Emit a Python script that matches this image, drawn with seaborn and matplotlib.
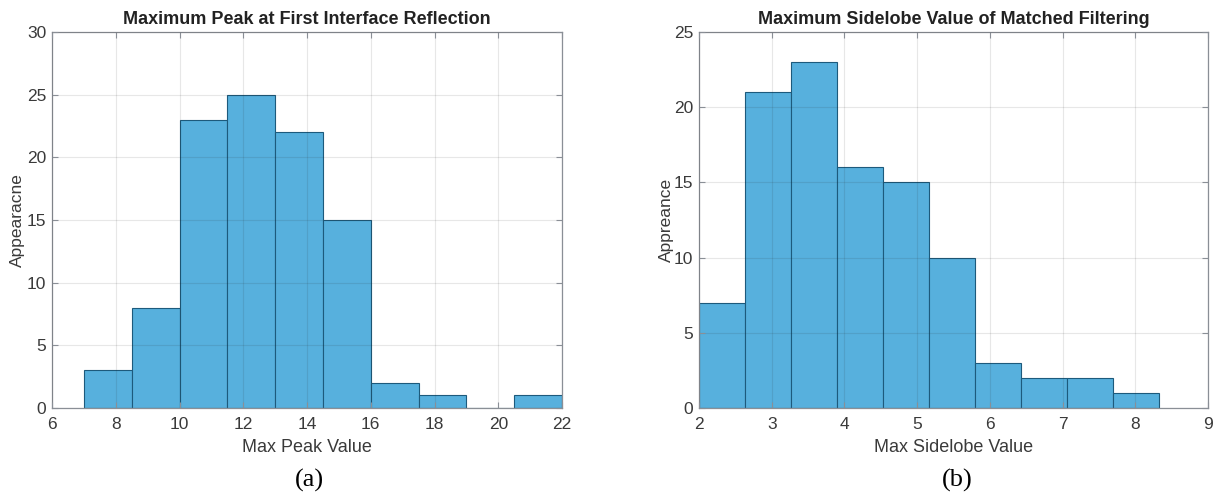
import numpy as np
import pandas as pd
import matplotlib
matplotlib.use("Agg")
import matplotlib.pyplot as plt
import seaborn as sns

# Histogram (a): bin edges and counts of maximum peak values
peak_edges = [7.0, 8.5, 10.0, 11.5, 13.0, 14.5, 16.0, 17.5, 19.0, 20.5, 22.0]
peak_counts = [3, 8, 23, 25, 22, 15, 2, 1, 0, 1]

# Histogram (b): bin edges and counts of maximum sidelobe values
side_edges = [2.0, 2.632, 3.264, 3.896, 4.528, 5.16, 5.792, 6.424, 7.056, 7.688, 8.32]
side_counts = [7, 21, 23, 16, 15, 10, 3, 2, 2, 1]

titles = ["Maximum Peak at First Interface Reflection",
          "Maximum Sidelobe Value of Matched Filtering"]
xlabels = ["Max Peak Value", "Max Sidelobe Value"]
ylabels = ["Appearacne", "Appreance"]
captions = ["(a)", "(b)"]

sns.set_theme(style="white")
plt.rcParams["font.family"] = ["Liberation Sans", "DejaVu Sans"]

FACE = "#57b0dd"
EDGE = "#1d5a7c"
AXC = "#8a8f96"
TXT = "#3a3a3a"

W, H = 1216, 495
fig = plt.figure(figsize=(W / 100, H / 100), dpi=100)
ax1 = fig.add_axes([52 / W, 1 - 408 / H, 510 / W, 376 / H])
ax2 = fig.add_axes([699 / W, 1 - 408 / H, 509 / W, 376 / H])


def draw_hist(ax, edges, counts):
    e = np.asarray(edges, dtype=float)
    centers = (e[:-1] + e[1:]) / 2
    df = pd.DataFrame({"x": centers, "n": counts})
    sns.histplot(data=df, x="x", weights="n", bins=list(edges), ax=ax,
                 color=FACE, alpha=1.0, edgecolor=EDGE, linewidth=0.8)


draw_hist(ax1, peak_edges, peak_counts)
draw_hist(ax2, side_edges, side_counts)

setup = [
    (ax1, (6, 22), np.arange(6, 23, 2), (0, 30), np.arange(0, 31, 5), -0.067),
    (ax2, (2, 9), np.arange(2, 10, 1), (0, 25), np.arange(0, 26, 5), -0.063),
]
for i, (ax, xl, xt, yl, yt, ylx) in enumerate(setup):
    ax.set_xlim(*xl)
    ax.set_ylim(*yl)
    ax.set_xticks(xt)
    ax.set_yticks(yt)
    ax.set_axisbelow(False)
    ax.grid(True, color="#262626", alpha=0.11, linewidth=0.8)
    for s in ax.spines.values():
        s.set_visible(True)
        s.set_color(AXC)
        s.set_linewidth(0.9)
    ax.tick_params(direction="in", length=4, width=0.8, color=AXC,
                   labelsize=12.5, labelcolor=TXT, top=True, right=True,
                   bottom=True, left=True)
    ax.tick_params(axis="x", pad=6.5)
    ax.tick_params(axis="y", pad=4)
    ax.set_title(titles[i], fontsize=13, fontweight="bold", color="#222222", pad=6)
    ax.set_xlabel(xlabels[i], fontsize=13, color=TXT)
    ax.set_ylabel(ylabels[i], fontsize=12.5, color=TXT)
    ax.xaxis.set_label_coords(0.5, -0.104)
    ax.yaxis.set_label_coords(ylx, 0.5)
    ax.xaxis.label.set_va("center")
    ax.yaxis.label.set_va("center")

fig.text(309 / W, 1 - 480 / H, captions[0], ha="center", va="center",
         fontsize=19, family=["Liberation Serif", "DejaVu Serif"], color="black")
fig.text(957 / W, 1 - 480 / H, captions[1], ha="center", va="center",
         fontsize=19, family=["Liberation Serif", "DejaVu Serif"], color="black")

fig.savefig("out.png", dpi=100)
